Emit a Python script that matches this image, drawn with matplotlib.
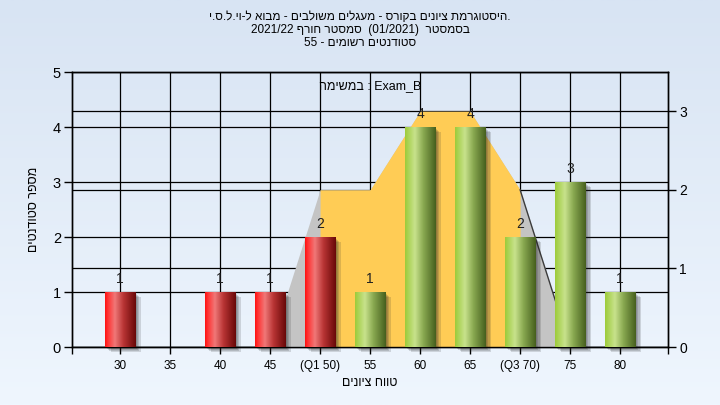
import numpy as np
import matplotlib
matplotlib.use('Agg')
import matplotlib.pyplot as plt
from matplotlib.colors import LinearSegmentedColormap
from matplotlib.patches import Rectangle
from matplotlib.transforms import ScaledTranslation


def rtl(s):
    # matplotlib has no bidi support -> write hebrew in visual order
    return s[::-1]


# data
grades = [30, 35, 40, 45, 50, 55, 60, 65, 70, 75, 80]
tick_labels = ['30', '35', '40', '45', '(Q1 50)', '55', '60', '65', '(Q3 70)', '75', '80']
counts = [1, 0, 1, 1, 2, 1, 4, 4, 2, 3, 1]
curve = [0, 0, 0, 0, 2, 2, 3, 3, 2, 0, 0]     # right axis
q1, q3 = 50, 70
pass_grade = 55

title_lines = [
    rtl("היסטוגרמת ציונים בקורס - מעגלים משולבים - מבוא ל-וי.ל.ס.י") + ".",
    "2021/22 " + rtl("סמסטר חורף") + "  (01/2021)  " + rtl("בסמסטר"),
    "55 - " + rtl("סטודנטים רשומים"),
]
task_label = rtl("במשימה") + " : Exam_B"
x_title = rtl("טווח ציונים")
y_title = rtl("מספר סטודנטים")

plt.rcParams['font.family'] = ['Liberation Sans', 'DejaVu Sans']

fig = plt.figure(figsize=(7.2, 4.05), dpi=100)

# light blue figure background
bg = fig.add_axes([0, 0, 1, 1], zorder=-10)
bg_cmap = LinearSegmentedColormap.from_list('bg', ['#d8e4f3', '#eff6fe'])
bg.imshow(np.linspace(0, 1, 256).reshape(-1, 1), cmap=bg_cmap, aspect='auto', extent=[0, 1, 0, 1])
bg.axis('off')

ax = fig.add_axes([0.1, 0.1432, 0.828, 0.679])
ax2 = ax.twinx()
ax.set_zorder(2)
ax2.set_zorder(1)
ax.patch.set_visible(False)
ax2.patch.set_facecolor('#b4b4b4')

x = np.arange(len(grades))
xlo, xhi = -0.96, len(grades) - 0.04

# normal-ish curve areas (right axis values)
ax.fill_between(x, 0, curve, color='#c4c4c4', lw=0, transform=ax2.transData, zorder=1)
inq = [(g >= q1) and (g <= q3) for g in grades]
ax.fill_between(x, 0, curve, where=inq, color='#ffcc55', lw=0, transform=ax2.transData, zorder=1.1)
i3 = grades.index(q3)
ax.plot(x[i3:i3 + 2], curve[i3:i3 + 2], color='#3c3c3c', lw=1, transform=ax2.transData, zorder=1.2)

red = LinearSegmentedColormap.from_list('red', [(0, '#ff1010'), (0.1, '#ff3535'), (0.32, '#f07878'),
                                                (0.6, '#b83434'), (1, '#680808')])
green = LinearSegmentedColormap.from_list('green', [(0, '#9ccb3a'), (0.32, '#c8e28c'),
                                                    (0.6, '#88a850'), (1, '#465f1e')])
grad = np.linspace(0, 1, 256).reshape(1, -1)

bars = ax.bar(x, counts, width=0.6, color='none', zorder=3)
for b, c, g in zip(bars, counts, grades):
    if c == 0:
        continue
    bx, bw, bh = b.get_x(), b.get_width(), b.get_height()
    # soft shadow
    for k in range(4):
        off = ScaledTranslation((2 + 1.2 * k) / 100, -(2 + k) / 100, fig.dpi_scale_trans)
        ax.add_patch(Rectangle((bx, 0), bw, bh, color='#202020', alpha=0.15, lw=0,
                               transform=ax.transData + off, zorder=2.5, clip_on=False))
    cmap = red if g < pass_grade else green
    ax.imshow(grad, cmap=cmap, aspect='auto', extent=[bx, bx + bw, 0, bh], zorder=3)
    ax.annotate(str(c), (b.get_x() + bw / 2, bh), xytext=(0, 4), textcoords='offset points',
                ha='center', va='bottom', fontsize=10, color='#202020', zorder=5)

ax.set_xlim(xlo, xhi)
ax.set_ylim(0, 5)
ax2.set_ylim(0, 3.5)
ax.set_yticks(range(6))
ax2.set_yticks(range(4))
ax.set_xticks(x, tick_labels)
ax.set_xticks([xlo, xhi], minor=True)

ax.set_axisbelow(True)
ax.grid(True, color='black', lw=0.9)
ax2.grid(True, axis='y', color='black', lw=0.9)
ax2.set_axisbelow(True)

ax.tick_params(axis='x', length=5, width=1, labelsize=8.5, pad=4)
ax.tick_params(axis='x', which='minor', length=5, width=1)
ax.tick_params(axis='y', length=6, width=1, labelsize=10.5, pad=2)
ax2.tick_params(axis='y', length=6, width=1, labelsize=10, pad=2)
for a in (ax, ax2):
    for s in a.spines.values():
        s.set_color('black')
        s.set_linewidth(1)

ax.set_xlabel(x_title, fontsize=9, labelpad=4)
ax.set_ylabel(y_title, fontsize=9, labelpad=9)
ax.text(0.5, 0.949, task_label, transform=ax.transAxes, ha='center', va='center', fontsize=9, zorder=6)

for i, line in enumerate(title_lines):
    fig.text(0.5, 1 - (17 + 13 * i) / 405, line, ha='center', va='center', fontsize=8.5)

fig.savefig('out.png', dpi=100)
